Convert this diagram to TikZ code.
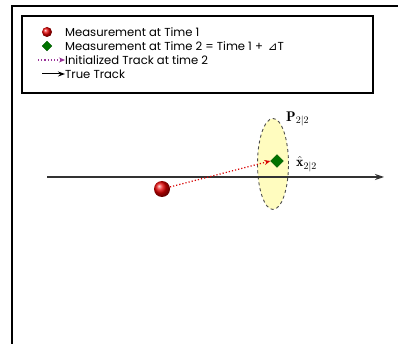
\documentclass[tikz,border=0pt]{standalone}
\usepackage{fontspec}
\usepackage{graphicx}
\newfontfamily\legfont{Poppins}
\newfontfamily\symfont{DejaVu Sans}
\newcommand\legtxt[1]{\scalebox{1.16}{\legfont #1}}
\usetikzlibrary{arrows.meta,shapes.geometric}
\begin{document}
\begin{tikzpicture}[x=1pt,y=-1pt,
  frame/.style={line width=2pt,black},
  legbox/.style={draw=black,line width=1.3pt},
  legtext/.style={anchor=west,inner sep=0pt},
  redball/.style={circle,inner sep=0pt,minimum size=#1,ball color=red!90!black},
  greendiamond/.style={diamond,inner sep=0pt,minimum size=#1,fill=green!45!black,draw=green!35!black,line width=0.3pt},
  truetrack/.style={-{Stealth[length=9pt,width=6pt]},line width=1.2pt,black!80},
  inittrack/.style={-{Stealth[length=6pt,width=5pt]},dotted,line width=1.2pt},
  cov/.style={ellipse,draw=black!70,dashed,line width=0.9pt,fill=yellow!25,inner sep=0pt,minimum width=31pt,minimum height=91pt}
]
\useasboundingbox (0,0) rectangle (398,344);
\fill[white] (0,0) rectangle (398,344);
% outer frame
\draw[frame] (398,6) -- (12,6) -- (12,344);
% legend
\node[legbox,minimum width=351pt,minimum height=77pt,inner sep=0pt] (legend) at (197.5,54.5) {};
\node[redball=10pt] (l1sym) at (47,32) {};
\node[legtext] (l1) at (65,32) {\legtxt{Measurement at Time 1}};
\node[greendiamond=10pt] (l2sym) at (47,46) {};
\node[legtext] (l2) at (65,46.5) {\legtxt{Measurement at Time 2 = Time 1 + \kern1.5pt{\symfont ⊿}T}};
\coordinate (l3a) at (38,60);
\node[legtext] (l3) at (65,60) {\legtxt{Initialized Track at time 2}};
\draw[inittrack,violet!80] (l3a) -- (l3.west);
\coordinate (l4a) at (42,74);
\node[legtext] (l4) at (65,74) {\legtxt{True Track}};
\draw[-{Stealth[length=7pt,width=5pt]},line width=1pt,black] (l4a) -- (l4.west);
% main diagram
\coordinate (ts) at (47,177);
\coordinate (te) at (384,177);
\node[cov] (P) at (273,164) {};
\draw[truetrack] (ts) -- (te);
\node[greendiamond=13pt] (z2) at (277,161) {};
\node[redball=16pt] (z1) at (162,189) {};
\draw[inittrack,red!85!black] (z1) -- (z2.west);
\node[anchor=west,inner sep=0pt] (Plab) at (286,119) {\fontsize{14}{15}\selectfont $\mathbf{P}_{2|2}$};
\node[anchor=west,inner sep=0pt] (xlab) at (296,164) {\fontsize{14}{15}\selectfont $\hat{\mathbf{x}}_{2|2}$};
\end{tikzpicture}
\end{document}
